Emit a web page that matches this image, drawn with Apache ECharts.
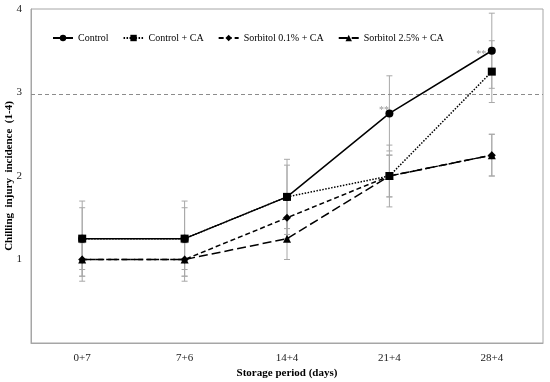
<!DOCTYPE html>
<html>
<head>
<meta charset="utf-8">
<script src="https://cdn.jsdelivr.net/npm/echarts@6/dist/echarts.min.js"></script>
<style>html,body{margin:0;padding:0;background:#fff;}#c{width:550px;height:382px;}</style>
</head>
<body>
<div id="c"></div>
<script>
var categories = ['0+7', '7+6', '14+4', '21+4', '28+4'];
var seriesNames = ['Control', 'Control + CA', 'Sorbitol 0.1% + CA', 'Sorbitol 2.5% + CA'];
var control = [1.25, 1.25, 1.75, 2.75, 3.5];
var controlCA = [1.25, 1.25, 1.75, 2.0, 3.25];
var sorb01 = [1.0, 1.0, 1.5, 2.0, 2.25];
var sorb25 = [1.0, 1.0, 1.25, 2.0, 2.25];
var controlErr = [0.45, 0.45, 0.45, 0.45, 0.45];
var controlCAErr = [0.37, 0.37, 0.38, 0.37, 0.37];
var sorb01Err = [0.26, 0.26, 0.25, 0.25, 0.25];
var sorb25Err = [0.2, 0.2, 0.25, 0.25, 0.25];
var yTicks = [0, 1, 2, 3, 4];
var refLine = 2.98;
var starCats = ['21+4', '28+4'];
var starVals = [2.75, 3.5];
var starText = '**';

var font = '"Liberation Serif", "Times New Roman", serif';
var starOffsets = [[-10, -8], [-15, -1]];

function errSeries(vals, errs) {
  var data = vals.map(function (v, i) { return [i, v - errs[i], v + errs[i]]; });
  return {
    type: 'custom',
    silent: true,
    z: 1,
    data: data,
    renderItem: function (params, api) {
      var lo = api.coord([api.value(0), api.value(1)]);
      var hi = api.coord([api.value(0), api.value(2)]);
      var w = 3;
      var st = { stroke: '#a8a8a8', lineWidth: 1 };
      return {
        type: 'group',
        children: [
          { type: 'line', shape: { x1: lo[0], y1: lo[1], x2: hi[0], y2: hi[1] }, style: st },
          { type: 'line', shape: { x1: lo[0] - w, y1: lo[1], x2: lo[0] + w, y2: lo[1] }, style: st },
          { type: 'line', shape: { x1: hi[0] - w, y1: hi[1], x2: hi[0] + w, y2: hi[1] }, style: st }
        ]
      };
    }
  };
}

function lineSeries(name, vals, symbol, size, dash, z) {
  return {
    name: name,
    type: 'line',
    data: vals,
    symbol: symbol,
    symbolSize: size,
    z: z,
    itemStyle: { color: '#000' },
    lineStyle: { color: '#000', width: 1.5, type: dash },
    animation: false
  };
}

var ctrl = lineSeries(seriesNames[0], control, 'circle', 8, 'solid', 5);
ctrl.markLine = {
  silent: true,
  symbol: 'none',
  label: { show: false },
  lineStyle: { color: '#8c8c8c', type: [4, 3], width: 1 },
  data: [{ yAxis: refLine }]
};

var stars = {
  type: 'scatter',
  silent: true,
  z: 7,
  symbolSize: 1,
  itemStyle: { color: 'rgba(0,0,0,0)' },
  data: starCats.map(function (c, i) {
    return { value: [c, starVals[i]], label: { position: starOffsets[i] } };
  }),
  label: { show: true, formatter: starText, color: '#777', fontSize: 10, fontFamily: font }
};

var option = {
  animation: false,
  backgroundColor: '#fff',
  grid: { left: 31, top: 9, right: 7, bottom: 39, show: true, borderColor: '#a6a6a6', borderWidth: 1, outerBoundsMode: 'none', containLabel: false },
  legend: {
    top: 28, left: 47,
    itemWidth: 20, itemHeight: 8, itemGap: 14,
    textStyle: { fontFamily: font, fontSize: 10, color: '#000' },
    data: seriesNames
  },
  xAxis: {
    type: 'category',
    data: categories,
    boundaryGap: true,
    axisLine: { lineStyle: { color: '#a6a6a6' } },
    axisTick: { show: false },
    axisLabel: { fontFamily: font, fontSize: 11, color: '#222', margin: 10 },
    name: 'Storage period (days)',
    nameLocation: 'middle',
    nameGap: 25,
    nameMoveOverlap: false,
    nameTextStyle: { fontFamily: font, fontSize: 11, fontWeight: 'bold', color: '#000' }
  },
  yAxis: {
    type: 'value',
    min: 0, max: 4, interval: 1,
    splitLine: { show: false },
    axisLine: { show: true, lineStyle: { color: '#a6a6a6' } },
    axisTick: { show: false },
    axisLabel: {
      fontFamily: font, fontSize: 11, color: '#222', margin: 9,
      formatter: function (v) { return (v === yTicks[0]) ? '' : String(v); }
    },
    name: 'Chilling  injury  incidence  (1-4)',
    nameLocation: 'middle',
    nameGap: 16,
    nameMoveOverlap: false,
    nameTextStyle: { fontFamily: font, fontSize: 11, fontWeight: 'bold', color: '#000' }
  },
  series: [
    errSeries(control, controlErr),
    errSeries(controlCA, controlCAErr),
    errSeries(sorb01, sorb01Err),
    errSeries(sorb25, sorb25Err),
    lineSeries(seriesNames[3], sorb25, 'triangle', 8, [9, 4], 3),
    lineSeries(seriesNames[2], sorb01, 'diamond', 8, [5, 3], 4),
    ctrl,
    lineSeries(seriesNames[1], controlCA, 'rect', 8, [1.5, 1.5], 6),
    stars
  ]
};

var chart = echarts.init(document.getElementById('c'), null, { renderer: 'canvas' });
chart.setOption(option);
</script>
</body>
</html>
